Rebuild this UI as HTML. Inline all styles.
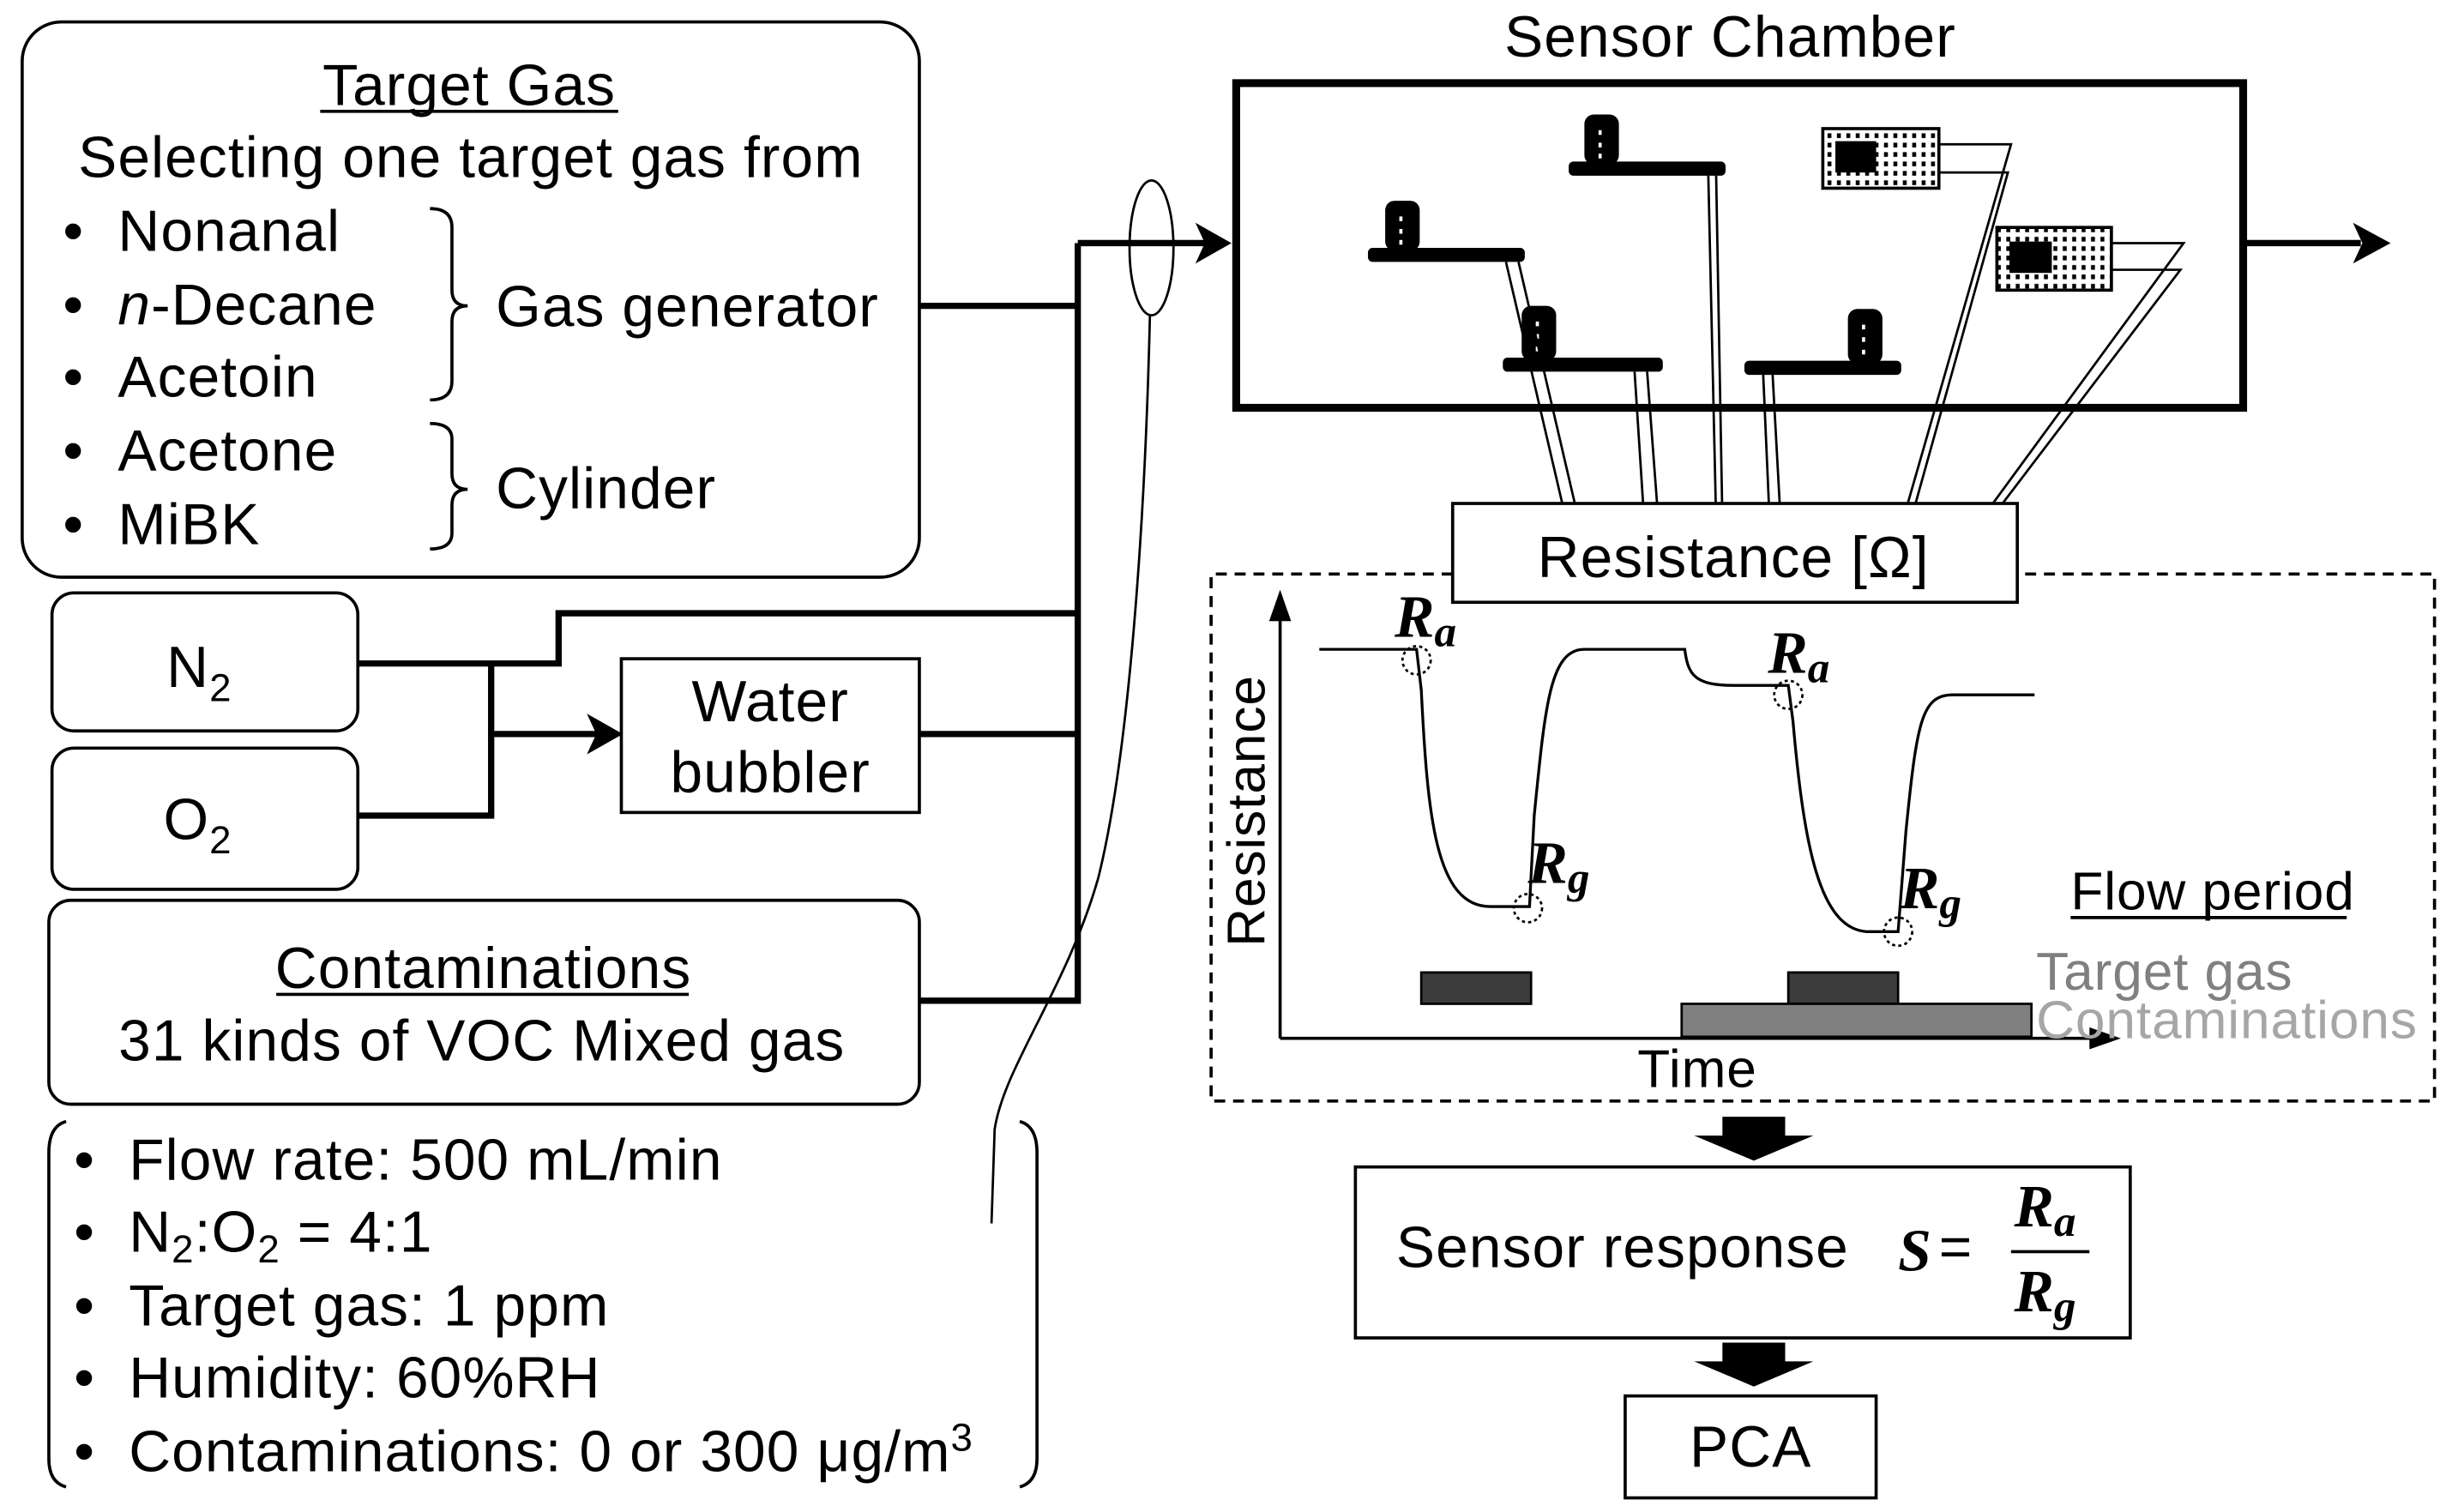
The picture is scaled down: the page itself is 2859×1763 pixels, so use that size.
<!DOCTYPE html>
<html><head><meta charset="utf-8"><style>
html,body{margin:0;padding:0;background:#fff;}
svg{display:block;}
text{font-family:"Liberation Sans",Arial,sans-serif;fill:#000;}
.t{font-size:37px;letter-spacing:0.6px;}
.s{font-size:34px;letter-spacing:0.5px;}
.m{font-family:"Liberation Serif",serif;font-weight:bold;font-style:italic;letter-spacing:0;}
</style></head><body>
<svg width="2859" height="1763" viewBox="0 0 1563 964" xmlns="http://www.w3.org/2000/svg">
<defs>
<pattern id="dots" width="6" height="6" patternUnits="userSpaceOnUse"><rect width="6" height="6" fill="#fff"/><rect x="1" y="1" width="2.5" height="3" fill="#000"/></pattern>
</defs>
<g fill="none" stroke="#000" stroke-width="2">
<rect x="14" y="14" width="572" height="354" rx="25"/>
<rect x="33" y="378" width="195" height="88" rx="14"/>
<rect x="33" y="477" width="195" height="90" rx="14"/>
<rect x="396" y="420" width="190" height="98"/>
<rect x="31" y="574" width="555" height="130" rx="14"/>
<path d="M274,133 Q288,133 288,145 L288,185 Q288,195 298,195 Q288,195 288,205 L288,243 Q288,255 274,255"/>
<path d="M274,270 Q288,270 288,280 L288,302 Q288,312 298,312 Q288,312 288,322 L288,340 Q288,350 274,350"/>
<path d="M42,715 Q31,718 31,735 L31,930 Q31,945 42,948"/>
<path d="M650,715 Q661,718 661,735 L661,930 Q661,945 650,948"/>
</g>
<g fill="none" stroke="#000" stroke-width="4">
<path d="M586,195 H687 M687,155 V640 M687,155 H770 M586,638 H687 M586,468 H687 M228,423 H356 V391 H687 M228,520 H313 V423 M313,468 H380"/>
<path d="M1430,155 H1505"/>
</g>
<path d="M785,155 L762,142 L768,155 L762,168 Z" fill="#000"/>
<path d="M397,468 L374,455 L380,468 L374,481 Z" fill="#000"/>
<path d="M1524,155 L1500,142 L1506,155 L1500,168 Z" fill="#000"/>
<ellipse cx="734" cy="158" rx="14" ry="43" fill="none" stroke="#000" stroke-width="1.5"/>
<path d="M733,201 C730,330 720,480 700,560 C680,630 640,680 634,720 L632,780" fill="none" stroke="#000" stroke-width="1.5"/>
<g class="t">
<text x="299" y="67" text-anchor="middle">Target Gas</text>
<path d="M204,71 H394" stroke="#000" stroke-width="2"/>
<text x="300" y="113" text-anchor="middle">Selecting one target gas from</text>
<text x="40" y="160">•</text><text x="75" y="160">Nonanal</text>
<text x="40" y="207">•</text><text x="75" y="207"><tspan font-style="italic">n</tspan>-Decane</text>
<text x="40" y="253">•</text><text x="75" y="253">Acetoin</text>
<text x="40" y="300">•</text><text x="75" y="300">Acetone</text>
<text x="40" y="347">•</text><text x="75" y="347">MiBK</text>
<text x="316" y="208">Gas generator</text>
<text x="316" y="324">Cylinder</text>
<text x="106" y="438">N<tspan font-size="25" dy="9">2</tspan></text>
<text x="104" y="535">O<tspan font-size="25" dy="9">2</tspan></text>
<text x="491" y="460" text-anchor="middle">Water</text>
<text x="491" y="505" text-anchor="middle">bubbler</text>
<text x="308" y="630" text-anchor="middle">Contaminations</text>
<path d="M176,634 H439" stroke="#000" stroke-width="2"/>
<text x="307" y="676" text-anchor="middle">31 kinds of VOC Mixed gas</text>
<text x="47" y="752">•</text><text x="82" y="752">Flow rate: 500 mL/min</text>
<text x="47" y="798">•</text><text x="82" y="798">N<tspan font-size="25" dy="7">2</tspan><tspan dy="-7">:O</tspan><tspan font-size="25" dy="7">2</tspan><tspan dy="-7"> = 4:1</tspan></text>
<text x="47" y="845">•</text><text x="82" y="845">Target gas: 1 ppm</text>
<text x="47" y="891">•</text><text x="82" y="891">Humidity:  60%RH</text>
<text x="47" y="938">•</text><text x="82" y="938">Contaminations:  0 or 300 μg/m<tspan font-size="25" dy="-13">3</tspan></text>
<text x="1103" y="36" text-anchor="middle">Sensor Chamber</text>
</g>
<rect x="788" y="53" width="642" height="207" fill="none" stroke="#000" stroke-width="5"/>
<g fill="#000">
<rect x="872" y="158" width="100" height="9" rx="3"/><rect x="883" y="128" width="22" height="32" rx="6"/>
<rect x="1000" y="103" width="100" height="9" rx="3"/><rect x="1010" y="73" width="22" height="32" rx="6"/>
<rect x="958" y="228" width="102" height="9" rx="3"/><rect x="970" y="195" width="22" height="35" rx="6"/>
<rect x="1112" y="230" width="100" height="9" rx="3"/><rect x="1178" y="197" width="22" height="35" rx="6"/>
</g>
<g fill="#fff"><rect x="892" y="138" width="2" height="3"/><rect x="892" y="146" width="2" height="3"/><rect x="892" y="153" width="2" height="3"/>
<rect x="1019" y="83" width="2" height="3"/><rect x="1019" y="91" width="2" height="3"/><rect x="1019" y="98" width="2" height="3"/>
<rect x="979" y="205" width="2" height="3"/><rect x="979" y="213" width="2" height="3"/><rect x="979" y="221" width="2" height="3"/>
<rect x="1187" y="207" width="2" height="3"/><rect x="1187" y="215" width="2" height="3"/><rect x="1187" y="223" width="2" height="3"/></g>
<rect x="1162" y="82" width="74" height="38" fill="url(#dots)" stroke="#000" stroke-width="2"/><rect x="1170" y="90" width="26" height="20" fill="#000"/>
<rect x="1273" y="145" width="73" height="40" fill="url(#dots)" stroke="#000" stroke-width="2"/><rect x="1281" y="154" width="27" height="20" fill="#000"/>
<g fill="none" stroke="#000" stroke-width="1.5">
<path d="M960,167 L998,330 M968,167 L1006,330 M1042,237 L1048,330 M1050,237 L1057,330 M1089,112 L1094,333 M1094,112 L1098,333 M1124,239 L1128,330 M1130,239 L1135,330"/>
<path d="M1236,92 H1282 L1215,325 M1236,110 H1280 L1220,325 M1346,155 H1392 L1266,327 M1346,172 H1390 L1272,327"/>
</g>
<rect x="926" y="321" width="360" height="63" fill="#fff" stroke="#000" stroke-width="2"/>
<text class="t" x="1105" y="368" text-anchor="middle">Resistance [Ω]</text>
<path d="M926,366 H772 V702 H1552 V366 H1286" fill="none" stroke="#000" stroke-width="2" stroke-dasharray="7,5"/>
<g stroke="#000" stroke-width="2" fill="none">
<path d="M816,662 V388 M816,662 H1340"/>
<path d="M841,414 H903 L906,440 C910,520 915,578 950,578 H975 L978,520 C985,450 988,414 1010,414 H1074 C1076,430 1080,437 1105,437 H1140 L1143,460 C1150,540 1160,592 1190,594 H1210 L1215,530 C1222,460 1225,443 1245,443 H1297" stroke-width="1.8"/>
</g>
<path d="M816,376 L809,396 H823 Z M1352,662 L1332,655 V669 Z" fill="#000"/>
<g fill="none" stroke="#000" stroke-width="1.5" stroke-dasharray="2,2">
<circle cx="903" cy="421" r="9"/><circle cx="974" cy="579" r="9"/><circle cx="1140" cy="443" r="9"/><circle cx="1210" cy="594" r="9"/>
</g>
<text class="m" x="889" y="406" font-size="38">R<tspan font-size="28" dy="6">a</tspan></text>
<text class="m" x="1127" y="429" font-size="38">R<tspan font-size="28" dy="6">a</tspan></text>
<text class="m" x="974" y="563" font-size="38">R<tspan font-size="28" dy="6">g</tspan></text>
<text class="m" x="1211" y="579" font-size="38">R<tspan font-size="28" dy="6">g</tspan></text>
<rect x="906" y="620" width="70" height="20" fill="#3c3c3c" stroke="#000" stroke-width="1.5"/>
<rect x="1140" y="620" width="70" height="20" fill="#3c3c3c" stroke="#000" stroke-width="1.5"/>
<rect x="1072" y="640" width="223" height="21" fill="#808080" stroke="#000" stroke-width="1.5"/>
<text class="s" x="806" y="517" text-anchor="middle" transform="rotate(-90 806 517)">Resistance</text>
<text class="s" x="1320" y="580">Flow period</text>
<path d="M1320,585 H1496" stroke="#000" stroke-width="2"/>
<text class="s" x="1298" y="631" style="fill:#808080">Target gas</text>
<text class="s" x="1298" y="662" style="fill:#a6a6a6">Contaminations</text>
<text class="s" x="1082" y="693" text-anchor="middle">Time</text>
<path d="M1098,712 H1138 V724 H1156 L1118,740 L1080,724 H1098 Z" fill="#000"/>
<path d="M1098,856 H1138 V868 H1156 L1118,884 L1080,868 H1098 Z" fill="#000"/>
<rect x="864" y="744" width="494" height="109" fill="none" stroke="#000" stroke-width="2"/>
<text class="t" x="890" y="808">Sensor response</text>
<text class="m" x="1210" y="810" font-size="38">S</text>
<text x="1236" y="807" font-size="36" font-family="Liberation Serif">=</text>
<text class="m" x="1284" y="782" font-size="38">R<tspan font-size="28" dy="6">a</tspan></text>
<path d="M1282,798 H1332" stroke="#000" stroke-width="2"/>
<text class="m" x="1284" y="836" font-size="38">R<tspan font-size="28" dy="6">g</tspan></text>
<rect x="1036" y="890" width="160" height="65" fill="none" stroke="#000" stroke-width="2"/>
<text class="t" x="1116" y="935" text-anchor="middle">PCA</text>
</svg>
</body></html>
